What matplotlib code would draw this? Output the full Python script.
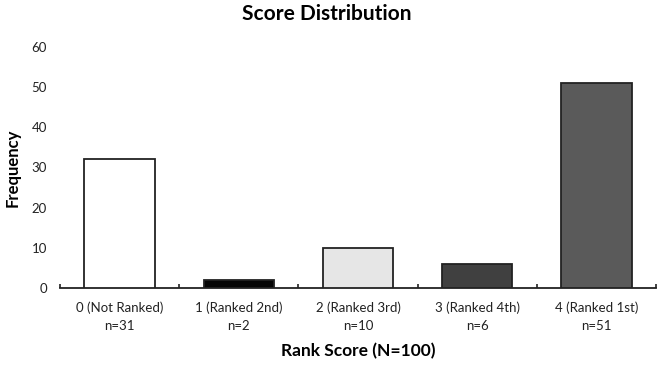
import matplotlib
matplotlib.use("Agg")
import matplotlib.pyplot as plt
from matplotlib.ticker import FixedLocator

categories = ["0 (Not Ranked)", "1 (Ranked 2nd)", "2 (Ranked 3rd)", "3 (Ranked 4th)", "4 (Ranked 1st)"]
n_labels = ["n=31", "n=2", "n=10", "n=6", "n=51"]
frequencies = [32, 2, 10, 6, 51]
bar_colors = ["#ffffff", "#050505", "#e6e6e6", "#404040", "#5a5a5a"]
yticks = [0, 10, 20, 30, 40, 50, 60]

plt.rcParams['font.family'] = ['Lato', 'DejaVu Sans']

fig = plt.figure(figsize=(6.68, 3.70), dpi=100)
ax = fig.add_axes([60/668, 1-288/370, (656-60)/668, (288-47)/370])

x = list(range(len(categories)))
ax.bar(x, frequencies, width=0.59, color=bar_colors, edgecolor="#222222", linewidth=1.3, zorder=3)

ax.set_xlim(-0.5, len(categories) - 0.5)
ax.set_ylim(0, 60)
ax.set_yticks(yticks)
ax.set_yticklabels([str(v) for v in yticks], fontsize=9.5, color="#222222")
ax.tick_params(axis='y', length=0, pad=9.5)

ax.set_xticks(x)
ax.set_xticklabels([f"{c}\n{n}" for c, n in zip(categories, n_labels)],
                   fontsize=9.5, color="#222222", linespacing=1.55)
ax.tick_params(axis='x', which='major', length=0, pad=10)
ax.xaxis.set_minor_locator(FixedLocator([i - 0.5 for i in range(len(categories) + 1)]))
ax.tick_params(axis='x', which='minor', direction='in', length=3, width=1.2, color="#222222")

for s in ["top", "right", "left"]:
    ax.spines[s].set_visible(False)
ax.spines["bottom"].set_color("#222222")
ax.spines["bottom"].set_linewidth(1.3)

ax.set_ylabel("Frequency", fontsize=12, fontweight="bold")
ax.yaxis.set_label_coords(-0.066, 0.5)
ax.set_xlabel("Rank Score (N=100)", fontsize=12.5, fontweight="bold", labelpad=8)
fig.text(327/668, 1-14/370, "Score Distribution", fontsize=15, fontweight="bold",
         ha="center", va="center")

fig.savefig("out.png", dpi=100, facecolor="white")
